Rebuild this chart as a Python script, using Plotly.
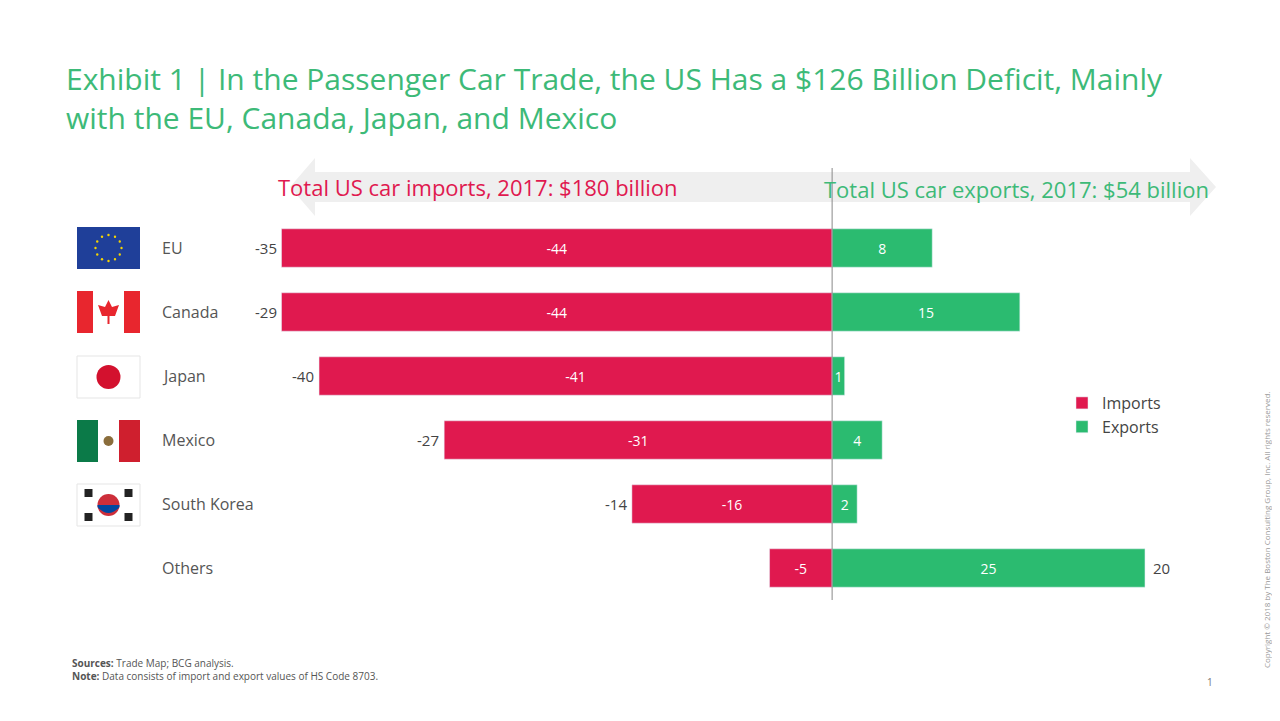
import plotly.graph_objects as go
import math

countries = ["EU", "Canada", "Japan", "Mexico", "South Korea", "Others"]
imports = [-44, -44, -41, -31, -16, -5]
exports = [8, 15, 1, 4, 2, 25]
net = [-35, -29, -40, -27, -14, 20]

RED = "#e0194f"
GREEN = "#2bbb70"
FONT = "Open Sans"
OFF = 8

fig = go.Figure()
fig.add_bar(y=countries, x=imports, orientation="h", name="Imports", marker_color=RED,
            text=[str(v) for v in imports], textposition="inside", insidetextanchor="middle",
            textfont=dict(color="white", size=14, family=FONT), width=0.6)
fig.add_bar(y=countries, x=exports, orientation="h", name="Exports", marker_color=GREEN,
            text=[str(v) for v in exports], textposition="inside", insidetextanchor="middle",
            textfont=dict(color="white", size=14, family=FONT), width=0.6)

W, H = 1280 - 2 * OFF, 721 - 2 * OFF
L = 279 - OFF
R = W - (1170 - OFF)
T = 216 - OFF
B = H - (600 - OFF)
pw, ph = W - L - R, H - T - B
def px(x): return (x - OFF - L) / pw
def py(y): return (H - B - (y - OFF)) / ph

ann = []
for c, i, e, n in zip(countries, imports, exports, net):
    if n < 0:
        ann.append(dict(x=i, y=c, xref="x", yref="y", text=str(n), showarrow=False,
                        xanchor="right", xshift=-3, font=dict(size=15, color="#444", family=FONT)))
    else:
        ann.append(dict(x=e, y=c, xref="x", yref="y", text=str(n), showarrow=False,
                        xanchor="left", xshift=6, font=dict(size=15, color="#444", family=FONT)))
    ann.append(dict(x=px(160), y=c, xref="paper", yref="y", text=c, showarrow=False,
                    xanchor="left", font=dict(size=16, color="#555", family=FONT)))

def t(x, y, text, size, color, xa="left", **kw):
    ann.append(dict(x=px(x), y=py(y), xref="paper", yref="paper", xanchor=xa, yanchor="middle",
                    text=text, showarrow=False, font=dict(size=size, color=color, family=FONT), **kw))

t(64, 98, "Exhibit 1 | In the Passenger Car Trade, the US Has a $126 Billion Deficit, Mainly<br>with the EU, Canada, Japan, and Mexico",
  30, "#3dba78", align="left")
t(276, 187, "Total US car imports, 2017: $180 billion", 22, RED)
t(1211, 189, "Total US car exports, 2017: $54 billion", 22, "#3dba78", xa="right")
t(70, 669, "<b>Sources:</b> Trade Map; BCG analysis.<br><b>Note:</b> Data consists of import and export values of HS Code 8703.",
  10, "#555", align="left")
t(1210, 682, "1", 10, "#777", xa="center")
t(1266, 530, "Copyright © 2018 by The Boston Consulting Group, Inc. All rights reserved.", 8, "#999", xa="center", textangle=-90)

shapes = []
shapes.append(dict(type="path", xref="paper", yref="paper", fillcolor="#efefef", line=dict(width=0),
    path=f"M {px(290)} {py(187)} L {px(315)} {py(158)} L {px(315)} {py(172)} L {px(1190)} {py(172)} L {px(1190)} {py(158)} L {px(1216)} {py(187)} L {px(1190)} {py(216)} L {px(1190)} {py(202)} L {px(315)} {py(202)} L {px(315)} {py(216)} Z",
    layer="below"))
shapes.append(dict(type="line", xref="x", yref="paper", x0=0, x1=0, y0=0, y1=py(168),
                   line=dict(color="#888", width=1), layer="above"))

def rect(x0, y0, x1, y1, color, line=None):
    shapes.append(dict(type="rect", xref="paper", yref="paper", x0=px(x0), x1=px(x1), y0=py(y1), y1=py(y0),
                       fillcolor=color, line=dict(width=1, color=line) if line else dict(width=0)))
def circ(cx, cy, r, color):
    shapes.append(dict(type="circle", xref="paper", yref="paper", x0=px(cx - r), x1=px(cx + r),
                       y0=py(cy + r), y1=py(cy - r), fillcolor=color, line=dict(width=0)))

fx0, fx1 = 77, 140
centers = [248, 312, 377, 441, 505]
c = centers[0]
rect(fx0, c - 21, fx1, c + 21, "#1f3f99")
for k in range(12):
    a = 2 * math.pi * k / 12
    circ(108.5 + 13 * math.cos(a), c + 13 * math.sin(a), 1.2, "#f5d400")
c = centers[1]
rect(fx0, c - 21, fx1, c + 21, "white")
rect(fx0, c - 21, fx0 + 16, c + 21, "#e8262e")
rect(fx1 - 16, c - 21, fx1, c + 21, "#e8262e")
shapes.append(dict(type="path", xref="paper", yref="paper", fillcolor="#e8262e", line=dict(width=0),
    path=f"M {px(108.5)} {py(c-12)} L {px(112)} {py(c-5)} L {px(119)} {py(c-7)} L {px(115)} {py(c+4)} L {px(109.5)} {py(c+4)} L {px(109.5)} {py(c+12)} L {px(107.5)} {py(c+12)} L {px(107.5)} {py(c+4)} L {px(102)} {py(c+4)} L {px(98)} {py(c-7)} L {px(105)} {py(c-5)} Z"))
c = centers[2]
rect(fx0, c - 21, fx1, c + 21, "white", "#e5e5e5")
circ(108.5, c, 12, "#d3112e")
c = centers[3]
rect(fx0, c - 21, fx1, c + 21, "white")
rect(fx0, c - 21, fx0 + 21, c + 21, "#0b7a48")
rect(fx1 - 21, c - 21, fx1, c + 21, "#cf1f2e")
circ(108.5, c, 5, "#8a6d3b")
c = centers[4]
rect(fx0, c - 21, fx1, c + 21, "white", "#e5e5e5")
circ(108.5, c, 11, "#cd2e3a")
shapes.append(dict(type="path", xref="paper", yref="paper", fillcolor="#0047a0", line=dict(width=0),
    path=f"M {px(97.5)} {py(c)} L {px(119.5)} {py(c)} L {px(119.5)} {py(c+2)} Q {px(108.5)} {py(c+14)} {px(97.5)} {py(c+2)} Z"))
for (dx, dy) in [(-20, -12), (20, -12), (-20, 12), (20, 12)]:
    rect(108.5 + dx - 4, c + dy - 4, 108.5 + dx + 4, c + dy + 4, "#222")

fig.update_layout(
    width=W, height=H, barmode="relative", bargap=0.4,
    margin=dict(l=L, r=R, t=T, b=B),
    plot_bgcolor="white", paper_bgcolor="white",
    xaxis=dict(range=[-44.2, 27], visible=False, fixedrange=True),
    yaxis=dict(autorange="reversed", visible=False, categoryorder="array", categoryarray=countries),
    legend=dict(x=px(1062), y=py(386), xanchor="left", yanchor="top", font=dict(size=16, color="#444", family=FONT),
                tracegroupgap=4),
    uniformtext=dict(minsize=12, mode="show"),
    annotations=ann, shapes=shapes, showlegend=True,
)
fig.write_html("out.html")
